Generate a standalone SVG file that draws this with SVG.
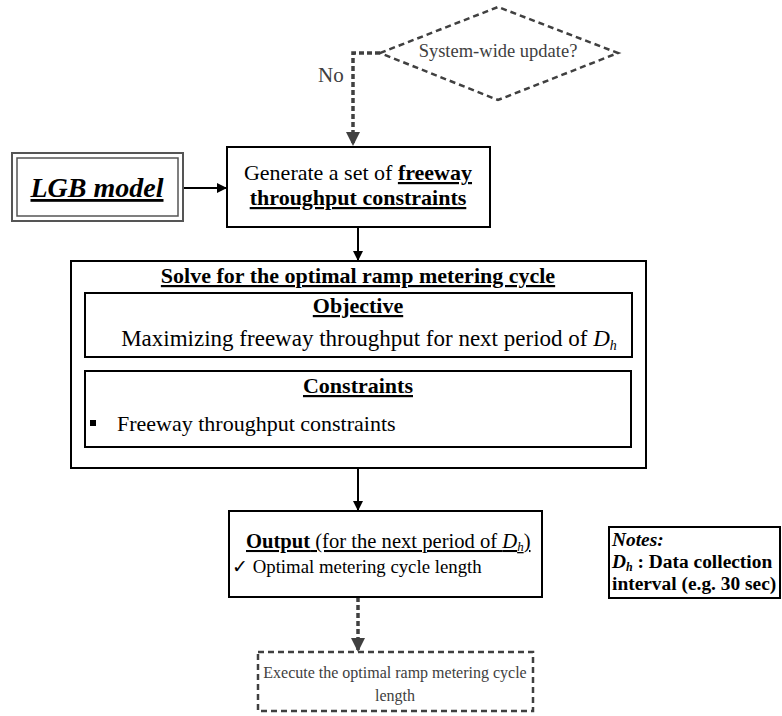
<svg xmlns="http://www.w3.org/2000/svg" width="782" height="716" viewBox="0 0 782 716" font-family="'Liberation Serif', 'DejaVu Serif', serif">
<defs>
<marker id="ah" markerWidth="10" markerHeight="10" refX="9" refY="5" orient="auto" markerUnits="userSpaceOnUse">
<path d="M0,0 L10,5 L0,10 z" fill="#000"/>
</marker>
<marker id="ahg" markerWidth="14" markerHeight="14" refX="13" refY="7" orient="auto" markerUnits="userSpaceOnUse">
<path d="M0,0 L14,7 L0,14 z" fill="#404040"/>
</marker>
</defs>
<style>
.box{fill:#fff;stroke:#000;stroke-width:2}
.dash{fill:#fff;stroke:#404040;stroke-width:2.5;stroke-dasharray:6,4}
.gray{fill:#404040}
.b{font-weight:bold}
.u{text-decoration:underline}
.conn{fill:none;stroke:#000;stroke-width:2}
.dconn{fill:none;stroke:#404040;stroke-width:3.5;stroke-dasharray:5,3}
</style>
<rect width="782" height="716" fill="#fff"/>
<g id="connectors">
<polyline class="dconn" points="380,53 353,53 353,145" marker-end="url(#ahg)"/>
<line class="conn" x1="183" y1="188" x2="226" y2="188" marker-end="url(#ah)"/>
<line class="conn" x1="358" y1="227" x2="358" y2="260" marker-end="url(#ah)"/>
<line class="conn" x1="358" y1="468" x2="358" y2="510" marker-end="url(#ah)"/>
<polyline class="dconn" points="358,597 358,651" marker-end="url(#ahg)"/>
</g>
<g id="decision">
<polygon class="dash" points="380,53 498,7 618,53 498,100"/>
<text x="498" y="57" text-anchor="middle" font-size="18.5" class="gray">System-wide update?</text>
</g>
<text id="label-no" x="318" y="82" font-size="21" class="gray">No</text>
<g id="lgb">
<rect x="12" y="153" width="171" height="68" fill="#fff" stroke="#555" stroke-width="2"/>
<rect x="17" y="158" width="161" height="58" fill="#fff" stroke="#555" stroke-width="1.5"/>
<text x="97" y="197" text-anchor="middle" font-size="28" font-weight="bold" font-style="italic" class="u">LGB model</text>
</g>
<g id="generate">
<rect class="box" x="227" y="147" width="263" height="80"/>
<text x="358" y="180" text-anchor="middle" font-size="22">Generate a set of <tspan class="b u">freeway</tspan></text>
<text x="358" y="205" text-anchor="middle" font-size="22" class="b u">throughput constraints</text>
</g>
<g id="solve">
<rect class="box" x="71" y="261" width="575" height="207"/>
<text x="358" y="283" text-anchor="middle" font-size="22" class="b u">Solve for the optimal ramp metering cycle</text>
</g>
<g id="objective">
<rect class="box" x="85" y="293" width="547" height="64"/>
<text x="358" y="313" text-anchor="middle" font-size="22" class="b u">Objective</text>
<text x="369" y="346" text-anchor="middle" font-size="23">Maximizing freeway throughput for next period of <tspan font-style="italic">D</tspan><tspan font-style="italic" font-size="14" dy="4">h</tspan></text>
</g>
<g id="constraints">
<rect class="box" x="85" y="371" width="546" height="76"/>
<text x="358" y="393" text-anchor="middle" font-size="22" class="b u">Constraints</text>
<rect x="90" y="420" width="6" height="6" fill="#000"/>
<text x="117" y="431" font-size="22">Freeway throughput constraints</text>
</g>
<g id="output">
<rect class="box" x="229" y="511" width="313" height="86"/>
<text x="246" y="548" font-size="20.6" class="u"><tspan class="b">Output</tspan> (for the next period of <tspan font-style="italic">D</tspan><tspan font-style="italic" font-size="13" dy="3">h</tspan><tspan dy="-3">)</tspan></text>
<text x="232" y="573" font-size="18.8">✓  Optimal metering cycle length</text>
</g>
<g id="execute">
<rect class="dash" x="258" y="652" width="275" height="59"/>
<text x="395" y="678" text-anchor="middle" font-size="16" class="gray">Execute the optimal ramp metering cycle</text>
<text x="395" y="701" text-anchor="middle" font-size="16" class="gray">length</text>
</g>
<g id="notes">
<rect x="609" y="527" width="171" height="71" fill="#fff" stroke="#000" stroke-width="2"/>
<text x="612" y="546" font-size="19.4" font-weight="bold" font-style="italic">Notes:</text>
<text x="612" y="568" font-size="19.4" font-weight="bold"><tspan font-style="italic">D</tspan><tspan font-style="italic" font-size="12" dy="3">h</tspan><tspan dy="-3"> : Data collection</tspan></text>
<text x="612" y="590" font-size="19.4" font-weight="bold">interval (e.g. 30 sec)</text>
</g>
</svg>
